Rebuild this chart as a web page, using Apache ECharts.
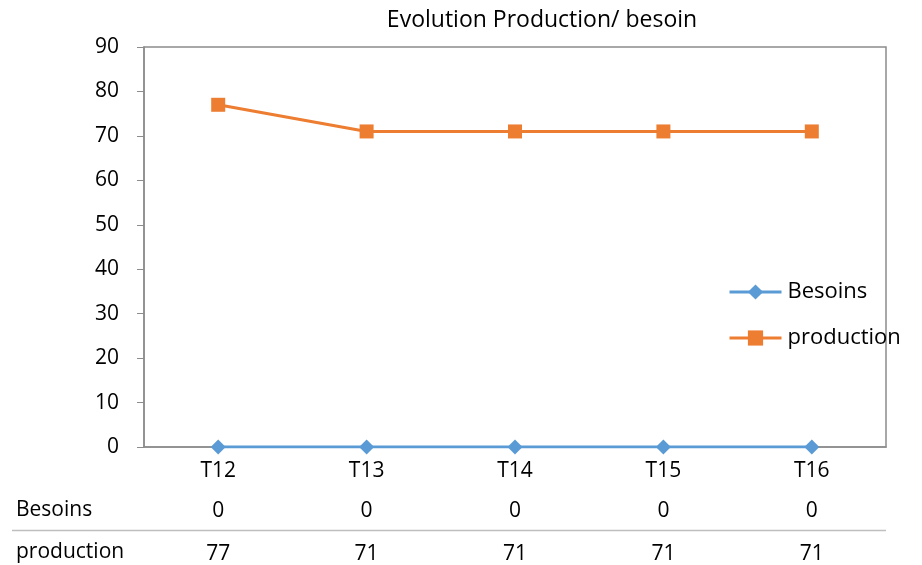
<!DOCTYPE html>
<html><head><meta charset="utf-8">
<script src="https://cdn.jsdelivr.net/npm/echarts@6/dist/echarts.min.js"></script>
<style>html,body{margin:0;padding:0;background:#fff}#c{width:922px;height:565px}</style>
</head><body><div id="c"></div>
<script>
const categories = ['T12', 'T13', 'T14', 'T15', 'T16'];
const besoins = [0, 0, 0, 0, 0];
const production = [77, 71, 71, 71, 71];
const seriesNames = ['Besoins', 'production'];
const titleText = 'Evolution Production/ besoin';

const FONT = '"Open Sans", sans-serif';
const FS = 21;
const chart = echarts.init(document.getElementById('c'), null, {renderer: 'canvas'});
const hiddenAxis = {show: false};
function tableAxis(values, offset) {
  return {
    type: 'category', data: values.map(String), position: 'bottom', offset: offset,
    axisLine: hiddenAxis, axisTick: hiddenAxis, splitLine: hiddenAxis,
    axisLabel: {color: '#000', fontSize: FS, fontFamily: FONT, margin: 14}
  };
}
chart.setOption({
  animation: false,
  backgroundColor: '#fff',
  title: {text: titleText, left: 537, top: 4, textAlign: 'center',
    textStyle: {fontSize: 23, fontWeight: 'normal', color: '#000', fontFamily: FONT}},
  grid: {left: 144, right: 36, top: 47, bottom: 117, show: true, borderColor: '#8c8c8c', borderWidth: 1.5},
  legend: {
    orient: 'vertical', left: 723, top: 276, itemGap: 24, itemWidth: 52, itemHeight: 19,
    data: seriesNames,
    lineStyle: {width: 3},
    textStyle: {fontSize: 22, color: '#000', fontFamily: FONT, padding: [0, 0, 0, 1]}
  },
  xAxis: [
    {type: 'category', data: categories, position: 'bottom',
      axisLine: {show: true, lineStyle: {color: '#8c8c8c', width: 1.5}},
      axisTick: {show: false},
      axisLabel: {color: '#000', fontSize: FS, fontFamily: FONT, margin: 14}},
    tableAxis(besoins, 40),
    tableAxis(production, 83)
  ],
  yAxis: {
    type: 'value', min: 0, max: 90, interval: 10,
    axisLine: {show: true, lineStyle: {color: '#8c8c8c', width: 1.5}},
    axisTick: {show: true, length: 7, lineStyle: {color: '#8c8c8c'}},
    splitLine: {show: false},
    axisLabel: {color: '#000', fontSize: FS, fontFamily: FONT, margin: 25, padding: [5, 0, 0, 0]}
  },
  graphic: [
    {type: 'text', left: 16, top: 500, style: {text: seriesNames[0], fontSize: FS, fill: '#000', fontFamily: FONT}},
    {type: 'text', left: 16, top: 542, style: {text: seriesNames[1], fontSize: FS, fill: '#000', fontFamily: FONT}},
    {type: 'line', shape: {x1: 12, y1: 530.5, x2: 886, y2: 530.5}, style: {stroke: '#bfbfbf', lineWidth: 1.5}}
  ],
  series: [
    {name: seriesNames[0], type: 'line', data: besoins, xAxisIndex: 0,
      symbol: 'diamond', symbolSize: 15, color: '#5b9bd5',
      lineStyle: {width: 3, color: '#5b9bd5'}, itemStyle: {color: '#5b9bd5'}, z: 3},
    {name: seriesNames[1], type: 'line', data: production, xAxisIndex: 0,
      symbol: 'rect', symbolSize: 14, color: '#ed7d31',
      lineStyle: {width: 3, color: '#ed7d31'}, itemStyle: {color: '#ed7d31'}, z: 3}
  ]
});
</script></body></html>
